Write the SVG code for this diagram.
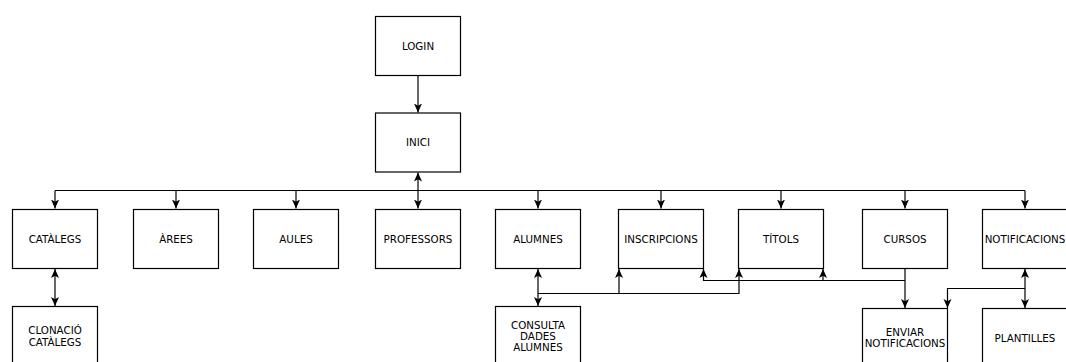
<svg xmlns="http://www.w3.org/2000/svg" width="1066" height="362" viewBox="0 0 1066 362">
<defs>
<style>
.box{fill:#ffffff;stroke:#000000;stroke-width:1.2}
.lbl{font-family:"DejaVu Sans","Liberation Sans",sans-serif;font-size:10.3px;fill:#000000;text-anchor:middle}
.edge{fill:none;stroke:#000000;stroke-width:1.2}
.one{marker-end:url(#arr)}
.two{marker-start:url(#arr);marker-end:url(#arr)}
</style>
<marker id="arr" viewBox="0 0 9 9" refX="9" refY="4.5" markerWidth="9" markerHeight="9" markerUnits="userSpaceOnUse" orient="auto-start-reverse">
<path d="M0,0.5 L9,4.5 L0,8.5 L2.2,4.5 z" fill="#000000"/>
</marker>
</defs>
<rect width="1066" height="362" fill="#ffffff"/>
<g id="connectors">
<path class="edge one" d="M418,75.5 V112.5"/>
<path class="edge two" d="M418,172.5 V208.5"/>
<path class="edge" d="M55,190.5 H1025"/>
<path class="edge one" d="M55,190.5 V208.5"/>
<path class="edge one" d="M176,190.5 V208.5"/>
<path class="edge one" d="M296,190.5 V208.5"/>
<path class="edge one" d="M538,190.5 V208.5"/>
<path class="edge one" d="M661,190.5 V208.5"/>
<path class="edge one" d="M781,190.5 V208.5"/>
<path class="edge one" d="M905,190.5 V208.5"/>
<path class="edge one" d="M1025,190.5 V208.5"/>
<path class="edge two" d="M55,269 V306"/>
<path class="edge two" d="M538,269 V306"/>
<path class="edge one" d="M538,293.5 H619 V269"/>
<path class="edge one" d="M619,293.5 H739 V269"/>
<path class="edge one" d="M905,269 V308"/>
<path class="edge one" d="M905,280.5 H703.5 V269"/>
<path class="edge one" d="M823,280.5 V269"/>
<path class="edge two" d="M1025,269 V308"/>
<path class="edge one" d="M1025,288.5 H947.5 V308"/>
</g>
<g id="login"><rect class="box" x="375.5" y="16.5" width="85" height="59"/><text class="lbl" x="418" y="49.5">LOGIN</text></g>
<g id="inici"><rect class="box" x="375.5" y="113" width="85" height="59"/><text class="lbl" x="418" y="146">INICI</text></g>
<g id="catalegs"><rect class="box" x="12.5" y="209.5" width="85" height="59"/><text class="lbl" x="55" y="242.5">CATÀLEGS</text></g>
<g id="arees"><rect class="box" x="133.5" y="209.5" width="85" height="59"/><text class="lbl" x="176" y="242.5">ÀREES</text></g>
<g id="aules"><rect class="box" x="253.5" y="209.5" width="85" height="59"/><text class="lbl" x="296" y="242.5">AULES</text></g>
<g id="professors"><rect class="box" x="375.5" y="209.5" width="85" height="59"/><text class="lbl" x="418" y="242.5">PROFESSORS</text></g>
<g id="alumnes"><rect class="box" x="495.5" y="209.5" width="85" height="59"/><text class="lbl" x="538" y="242.5">ALUMNES</text></g>
<g id="inscripcions"><rect class="box" x="618.5" y="209.5" width="85" height="59"/><text class="lbl" x="661" y="242.5">INSCRIPCIONS</text></g>
<g id="titols"><rect class="box" x="738.5" y="209.5" width="85" height="59"/><text class="lbl" x="781" y="242.5">TÍTOLS</text></g>
<g id="cursos"><rect class="box" x="862.5" y="209.5" width="85" height="59"/><text class="lbl" x="905" y="242.5">CURSOS</text></g>
<g id="notificacions"><rect class="box" x="982.5" y="209.5" width="85" height="59"/><text class="lbl" x="1025" y="242.5">NOTIFICACIONS</text></g>
<g id="clonacio"><rect class="box" x="12.5" y="306.5" width="85" height="59"/><text class="lbl" x="55" y="333.5">CLONACIÓ</text><text class="lbl" x="55" y="346">CATÀLEGS</text></g>
<g id="consulta"><rect class="box" x="495.5" y="306.5" width="85" height="59"/><text class="lbl" x="538" y="328.8">CONSULTA</text><text class="lbl" x="538" y="340">DADES</text><text class="lbl" x="538" y="351.3">ALUMNES</text></g>
<g id="enviar"><rect class="box" x="862.5" y="308.5" width="85" height="59"/><text class="lbl" x="905" y="336">ENVIAR</text><text class="lbl" x="905" y="347.3">NOTIFICACIONS</text></g>
<g id="plantilles"><rect class="box" x="982.5" y="308.5" width="85" height="59"/><text class="lbl" x="1025" y="341.5">PLANTILLES</text></g>
</svg>
